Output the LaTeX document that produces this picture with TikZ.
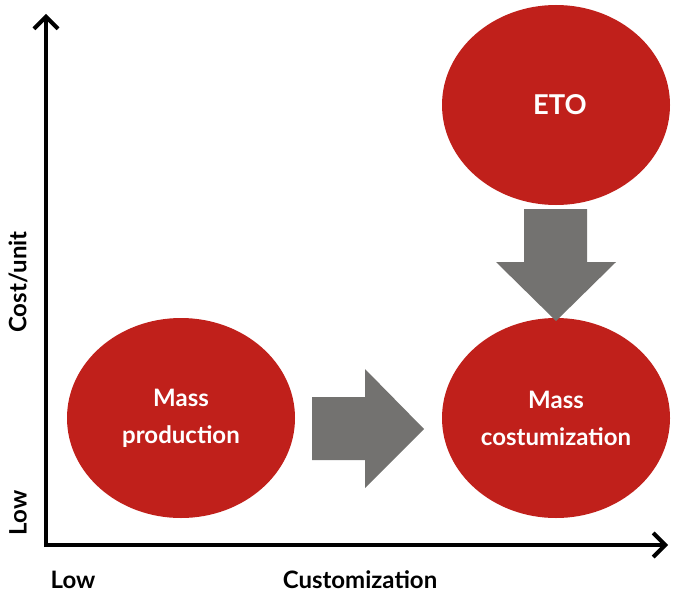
\documentclass[tikz,border=0pt]{standalone}
\usepackage{fontspec}
\setmainfont{Lato}
\usetikzlibrary{arrows.meta,shapes.geometric}
\definecolor{bred}{HTML}{C0201B}
\definecolor{agray}{HTML}{737270}
\begin{document}
\begin{tikzpicture}[x=0.75pt,y=-0.75pt,
  blob/.style={ellipse, fill=bred, draw=none, text=white, font=\fontsize{18}{27.7}\selectfont\bfseries, align=center, inner sep=0pt, minimum width=171pt, minimum height=150pt},
  axlab/.style={font=\fontsize{18}{20}\selectfont\bfseries, text=black, inner sep=0pt},
  bigarrow/.style={fill=agray, draw=none},
  axis/.style={line width=3pt, -{Straight Barb[length=9pt,width=18pt,line width=3pt]}}]
\useasboundingbox (0,0) rectangle (673,592);
% ellipses
\node[blob] (mp) at (181,418) {Mass\\production};
\node[blob] (mc) at (556,418) {Mass\\costumization};
\node[blob] (eto) at (556,105) {};
\node[text=white, font=\fontsize{20.5}{24}\selectfont\bfseries, inner sep=0pt] (etot) at (560,105) {ETO};
% axes
\coordinate (o) at (46,545);
\coordinate (ytop) at (46,14);
\coordinate (xend) at (668,545);
\draw[axis] ([yshift=-1.5pt]o) -- (ytop);
\draw[axis] ([xshift=-1.5pt]o) -- (xend);
% big arrows
\fill[bigarrow] (312,397) -- (365,397) -- (365,369) -- (424,429) -- (365,488) -- (365,460) -- (312,460) -- cycle;
\fill[bigarrow] (524,209) -- (587,209) -- (587,262) -- (616,262) -- (556,321) -- (496,262) -- (524,262) -- cycle;
% labels
\node[axlab, rotate=90] (cost) at (18,282) {Cost/unit};
\node[axlab, rotate=90] (lowy) at (18,513) {Low};
\node[axlab] (lowx) at (73,580) {Low};
\node[axlab] (cust) at (360,580) {Customization};
\end{tikzpicture}
\end{document}
